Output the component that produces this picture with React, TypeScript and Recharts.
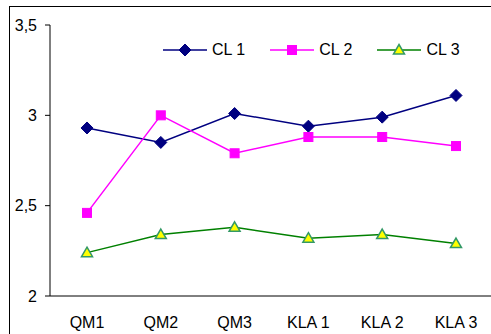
import React from 'react';
import { LineChart, Line, XAxis, YAxis } from 'recharts';

const categories = ['QM1', 'QM2', 'QM3', 'KLA 1', 'KLA 2', 'KLA 3'];
const cl1 = [2.93, 2.85, 3.01, 2.94, 2.99, 3.11];
const cl2 = [2.46, 3.0, 2.79, 2.88, 2.88, 2.83];
const cl3 = [2.24, 2.34, 2.38, 2.32, 2.34, 2.29];
const yTicks = [2, 2.5, 3, 3.5];

const data = categories.map((name, i) => ({ name, cl1: cl1[i], cl2: cl2[i], cl3: cl3[i] }));

const FONT = "'Liberation Sans', Arial, sans-serif";

const diamond = (cx: number, cy: number, key?: string) => (
  <path key={key} d={`M${cx},${cy - 6}L${cx + 6},${cy}L${cx},${cy + 6}L${cx - 6},${cy}Z`} fill="#000080" stroke="#000080" />
);
const square = (cx: number, cy: number, key?: string) => (
  <rect key={key} x={cx - 4.5} y={cy - 4.5} width={9} height={9} fill="#FF00FF" stroke="#FF00FF" />
);
const triangle = (cx: number, cy: number, key?: string) => (
  <path key={key} d={`M${cx},${cy - 5.5}L${cx + 5.5},${cy + 4}L${cx - 5.5},${cy + 4}Z`} fill="#FFFF00" stroke="#339966" strokeWidth={1.5} />
);

const series = [
  { key: 'cl1', name: 'CL 1', color: '#000080', marker: diamond },
  { key: 'cl2', name: 'CL 2', color: '#FF00FF', marker: square },
  { key: 'cl3', name: 'CL 3', color: '#008000', marker: triangle },
];

// legend drawn as an overlay so recharts doesn't shrink the plot for it
const LegendBox = () => (
  <div style={{ position: 'absolute', left: 153, top: 34, display: 'flex', alignItems: 'center', fontFamily: FONT, fontSize: 16, color: '#000' }}>
    {series.map((s) => (
      <div key={s.key} style={{ display: 'flex', alignItems: 'center', marginRight: 25 }}>
        <svg width={44} height={14} style={{ marginRight: 5 }}>
          <line x1={0} y1={7} x2={44} y2={7} stroke={s.color} strokeWidth={1.5} />
          {s.marker(22, 7)}
        </svg>
        <span>{s.name}</span>
      </div>
    ))}
  </div>
);

export default function App() {
  return (
    <div>
      <style>{'body{margin:0;overflow:hidden}'}</style>
      <div style={{ position: 'absolute', left: 9, top: 6, width: 520, height: 340, border: '1px solid #000' }}>
        <LineChart width={500} height={330} data={data} margin={{ top: 18, right: 17, bottom: 11, left: 0 }}>
          <XAxis
            dataKey="name"
            tickLine={false}
            tickSize={0}
            tickMargin={21}
            padding={{ left: 37, right: 37 }}
            axisLine={{ stroke: '#000' }}
            tick={{ fill: '#000', fontSize: 16, fontFamily: FONT }}
            height={30}
          />
          <YAxis
            domain={[2, 3.5]}
            ticks={yTicks}
            width={40}
            tickSize={5}
            tickMargin={8}
            axisLine={{ stroke: '#000' }}
            tickLine={{ stroke: '#000' }}
            tickFormatter={(v: number) => String(v).replace('.', ',')}
            tick={{ fill: '#000', fontSize: 16, fontFamily: FONT }}
          />
          {series.map((s) => (
            <Line
              key={s.key}
              dataKey={s.key}
              name={s.name}
              stroke={s.color}
              strokeWidth={1.5}
              isAnimationActive={false}
              dot={(p: any) => s.marker(p.cx, p.cy, `${s.key}-${p.index}`)}
              activeDot={false}
            />
          ))}
        </LineChart>
        <LegendBox />
      </div>
    </div>
  );
}
